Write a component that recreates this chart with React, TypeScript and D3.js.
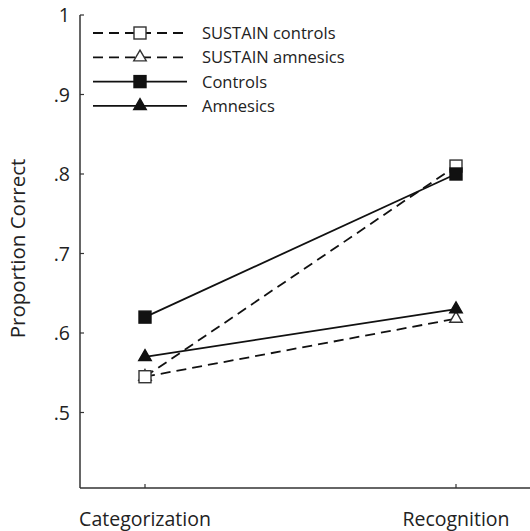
import React from "react";
import * as d3 from "d3";

const categories = ["Categorization", "Recognition"];
const seriesNames = ["SUSTAIN amnesics", "SUSTAIN controls", "Amnesics", "Controls"];
const sustainAmnesics = [0.545, 0.618];
const sustainControls = [0.545, 0.81];
const amnesics = [0.57, 0.63];
const controls = [0.62, 0.8];
const yTicks = [1, 0.9, 0.8, 0.7, 0.6, 0.5];
const legendOrder = ["SUSTAIN controls", "SUSTAIN amnesics", "Controls", "Amnesics"];

const W = 530;
const H = 531;
const FONT = "'Open Sans', sans-serif";

type Style = { dashed: boolean; shape: "square" | "triangle"; filled: boolean };
const styles: Record<string, Style> = {
  "SUSTAIN controls": { dashed: true, shape: "square", filled: false },
  "SUSTAIN amnesics": { dashed: true, shape: "triangle", filled: false },
  Controls: { dashed: false, shape: "square", filled: true },
  Amnesics: { dashed: false, shape: "triangle", filled: true },
};
const values: Record<string, number[]> = {
  "SUSTAIN amnesics": sustainAmnesics,
  "SUSTAIN controls": sustainControls,
  Amnesics: amnesics,
  Controls: controls,
};

function Marker({ x, y, st }: { x: number; y: number; st: Style }) {
  const fill = st.filled ? "#111" : "#fff";
  const stroke = st.filled ? "#111" : "#333";
  if (st.shape === "square") {
    const s = 12;
    return <rect x={x - s / 2} y={y - s / 2} width={s} height={s} fill={fill} stroke={stroke} strokeWidth={1.4} />;
  }
  const sym = d3.symbol(d3.symbolTriangle, 68)();
  return <path d={sym || ""} transform={`translate(${x},${y})`} fill={fill} stroke={stroke} strokeWidth={1.4} />;
}

export default function App() {
  const axisX = 80;
  const axisTop = 15;
  const axisBottom = 488;
  const x = d3.scalePoint<string>().domain(categories).range([145, 456]).padding(0);
  const y = d3.scaleLinear().domain([0.5, 1]).range([412.5, 15]);
  const line = d3
    .line<number>()
    .x((_, i) => x(categories[i]) as number)
    .y((d) => y(d));
  const fmt = (d: number) => (d === 1 ? "1" : d3.format(".1f")(d).replace(/^0/, ""));
  const legendY = (i: number) => 33 + i * 24.3;

  return (
    <svg width={W} height={H} style={{ position: "absolute", left: 0, top: 0, background: "#fff" }} fontFamily={FONT}>
      {/* axes */}
      <line x1={axisX} y1={axisTop} x2={axisX} y2={axisBottom} stroke="#333" strokeWidth={1.5} />
      <line x1={axisX} y1={axisBottom} x2={W} y2={axisBottom} stroke="#333" strokeWidth={1.5} />
      {yTicks.map((t) => (
        <g key={t}>
          <line x1={axisX} x2={axisX + 4} y1={y(t)} y2={y(t)} stroke="#333" strokeWidth={1.2} />
          <text x={70} y={y(t)} dy="0.36em" textAnchor="end" fontSize={19.5} fill="#222">
            {fmt(t)}
          </text>
        </g>
      ))}
      {categories.map((c) => (
        <g key={c}>
          <line x1={x(c)} x2={x(c)} y1={axisBottom} y2={axisBottom - 4} stroke="#333" strokeWidth={1.2} />
          <text x={x(c)} y={526} textAnchor="middle" fontSize={19.5} fill="#222">
            {c}
          </text>
        </g>
      ))}
      <text transform={`translate(25,248.5) rotate(-90)`} textAnchor="middle" fontSize={20.5} fill="#222">
        Proportion Correct
      </text>

      {/* lines */}
      {seriesNames.map((n) => (
        <path
          key={n}
          d={line(values[n]) || ""}
          fill="none"
          stroke="#111"
          strokeWidth={1.8}
          strokeDasharray={styles[n].dashed ? "10,6" : undefined}
        />
      ))}
      {/* markers */}
      {seriesNames.map((n) =>
        values[n].map((v, i) => <Marker key={n + i} x={x(categories[i]) as number} y={y(v)} st={styles[n]} />)
      )}

      {/* legend */}
      {legendOrder.map((n, i) => (
        <g key={n}>
          <line
            x1={93}
            x2={187}
            y1={legendY(i)}
            y2={legendY(i)}
            stroke="#111"
            strokeWidth={1.8}
            strokeDasharray={styles[n].dashed ? "10,6" : undefined}
          />
          <Marker x={140} y={legendY(i)} st={styles[n]} />
          <text x={202} y={legendY(i)} dy="0.36em" fontSize={16.5} fill="#222">
            {n}
          </text>
        </g>
      ))}
    </svg>
  );
}
